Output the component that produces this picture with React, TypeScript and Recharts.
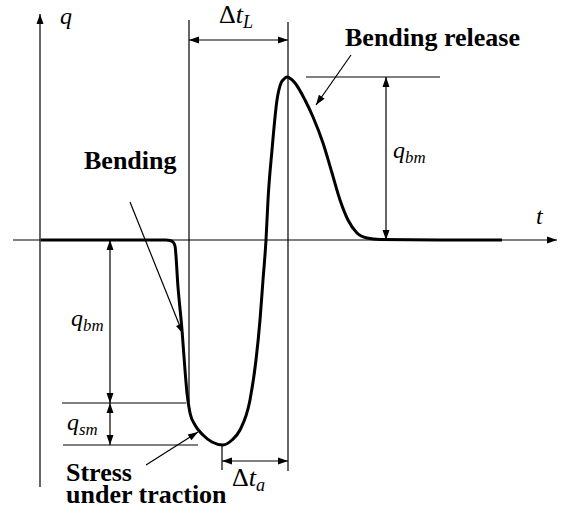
import React from "react";
import { LineChart, Line, XAxis, YAxis, ReferenceLine, ReferenceDot } from "recharts";

// time positions along the t axis and load q at each one
const timePoints = [
  41, 120, 166, 170, 173, 175, 178, 182, 185, 187, 190, 195, 203, 212, 223,
  232, 240, 250, 256, 260, 263, 266, 268, 272, 277, 281, 284, 287, 291, 295,
  305, 313, 323, 332, 340, 348, 357, 367, 380, 440, 502,
];
const loadValues = [
  0, 0, 0, -0.5, -2, -6, -47, -90, -130, -153, -173, -185, -195, -202, -205,
  -200, -190, -160, -120, -80, -40, 0, 40, 90, 140, 157, 161, 163, 161, 157,
  140, 123, 97, 67, 40, 20, 7, 2, 0.5, 0, 0,
];

// characteristic levels / instants
const qPeak = 163;
const qBendLow = -163;
const qMin = -205;
const tStart = 189;
const tPeak = 288;
const tMin = 222;

const data = timePoints.map((t, i) => ({ t, q: loadValues[i] }));

const INK = "#000";
const THIN = 1.2;
const serif = "'Liberation Serif', 'Times New Roman', serif";

function head(fx: number, fy: number, tx: number, ty: number, len = 10, half = 3.5) {
  const dx = tx - fx;
  const dy = ty - fy;
  const d = Math.hypot(dx, dy) || 1;
  const ux = dx / d;
  const uy = dy / d;
  const bx = tx - ux * len;
  const by = ty - uy * len;
  const pts = `${tx},${ty} ${bx - uy * half},${by + ux * half} ${bx + uy * half},${by - ux * half}`;
  return <polygon points={pts} fill={INK} stroke="none" />;
}

const arrow = (heads: "none" | "start" | "end" | "both") => (p: any) => {
  const { x1, y1, x2, y2 } = p;
  return (
    <g>
      <line x1={x1} y1={y1} x2={x2} y2={y2} stroke={INK} strokeWidth={THIN} />
      {(heads === "end" || heads === "both") && head(x1, y1, x2, y2)}
      {(heads === "start" || heads === "both") && head(x2, y2, x1, y1)}
    </g>
  );
};

const seg = (xa: number, qa: number, xb: number, qb: number) => [
  { x: xa, y: qa },
  { x: xb, y: qb },
];

const bold = (lines: string[]) => (p: any) => (
  <text x={p.cx} y={p.cy} fontFamily={serif} fontWeight="bold" fontSize={26} fill={INK}>
    {lines.map((s, i) => (
      <tspan key={i} x={p.cx} dy={i === 0 ? 0 : 22}>
        {s}
      </tspan>
    ))}
  </text>
);

const math = (pre: string, main: string, sub?: string, size = 24) => (p: any) => (
  <text x={p.cx} y={p.cy} fontFamily={serif} fontStyle="italic" fontSize={size} fill={INK}>
    {pre && <tspan fontStyle="normal">{pre}</tspan>}
    <tspan>{main}</tspan>
    {sub && (
      <tspan fontSize={size * 0.7} dy={5}>
        {sub}
      </tspan>
    )}
  </text>
);

export default function App() {
  return (
    <div style={{ position: "absolute", left: 0, top: 0, background: "#fff" }}>
      <LineChart width={568} height={511} data={data} margin={{ top: 0, right: 0, bottom: 0, left: 0 }}>
        <XAxis type="number" dataKey="t" domain={[0, 568]} hide />
        <YAxis type="number" domain={[-271, 240]} hide />

        {/* axes */}
        <ReferenceLine segment={seg(40, -247, 40, 226)} ifOverflow="visible" shape={arrow("end")} />
        <ReferenceLine segment={seg(13, 0, 557, 0)} ifOverflow="visible" shape={arrow("end")} />

        {/* guide lines */}
        <ReferenceLine segment={seg(tStart, 220, tStart, qBendLow)} ifOverflow="visible" shape={arrow("none")} />
        <ReferenceLine segment={seg(tPeak, 218, tPeak, -231)} ifOverflow="visible" shape={arrow("none")} />
        <ReferenceLine segment={seg(306, qPeak, 440, qPeak)} ifOverflow="visible" shape={arrow("none")} />
        <ReferenceLine segment={seg(62, qBendLow, 186, qBendLow)} ifOverflow="visible" shape={arrow("none")} />
        <ReferenceLine segment={seg(63, qMin, 198, qMin)} ifOverflow="visible" shape={arrow("none")} />
        <ReferenceLine segment={seg(tMin, qMin, tMin, -230)} ifOverflow="visible" shape={arrow("none")} />

        {/* dimensions */}
        <ReferenceLine segment={seg(tStart, 200, tPeak, 200)} ifOverflow="visible" shape={arrow("both")} />
        <ReferenceLine segment={seg(386, qPeak, 386, 0)} ifOverflow="visible" shape={arrow("both")} />
        <ReferenceLine segment={seg(110, 0, 110, qBendLow)} ifOverflow="visible" shape={arrow("both")} />
        <ReferenceLine segment={seg(110, qBendLow, 110, qMin)} ifOverflow="visible" shape={arrow("both")} />
        <ReferenceLine segment={seg(tMin, -221, tPeak, -221)} ifOverflow="visible" shape={arrow("both")} />

        {/* pointers */}
        <ReferenceLine segment={seg(130, 38, 183, -94)} ifOverflow="visible" shape={arrow("end")} />
        <ReferenceLine segment={seg(351, 185, 316, 135)} ifOverflow="visible" shape={arrow("end")} />
        <ReferenceLine segment={seg(146, -225, 198, -192)} ifOverflow="visible" shape={arrow("end")} />

        <Line
          type="monotone"
          dataKey="q"
          stroke={INK}
          strokeWidth={3}
          dot={false}
          activeDot={false}
          isAnimationActive={false}
        />

        {/* text */}
        <ReferenceDot x={60} y={216} r={1} ifOverflow="visible" shape={math("", "q")} />
        <ReferenceDot x={536} y={16} r={1} ifOverflow="visible" shape={math("", "t")} />
        <ReferenceDot x={219} y={217} r={1} ifOverflow="visible" shape={math("\u0394", "t", "L", 26)} />
        <ReferenceDot x={393} y={82} r={1} ifOverflow="visible" shape={math("", "q", "bm")} />
        <ReferenceDot x={71} y={-86} r={1} ifOverflow="visible" shape={math("", "q", "bm")} />
        <ReferenceDot x={67} y={-190} r={1} ifOverflow="visible" shape={math("", "q", "sm")} />
        <ReferenceDot x={232} y={-246} r={1} ifOverflow="visible" shape={math("\u0394", "t", "a", 26)} />
        <ReferenceDot x={84} y={71} r={1} ifOverflow="visible" shape={bold(["Bending"])} />
        <ReferenceDot x={345} y={194} r={1} ifOverflow="visible" shape={bold(["Bending release"])} />
        <ReferenceDot x={66} y={-241} r={1} ifOverflow="visible" shape={bold(["Stress", "under traction"])} />
      </LineChart>
    </div>
  );
}
